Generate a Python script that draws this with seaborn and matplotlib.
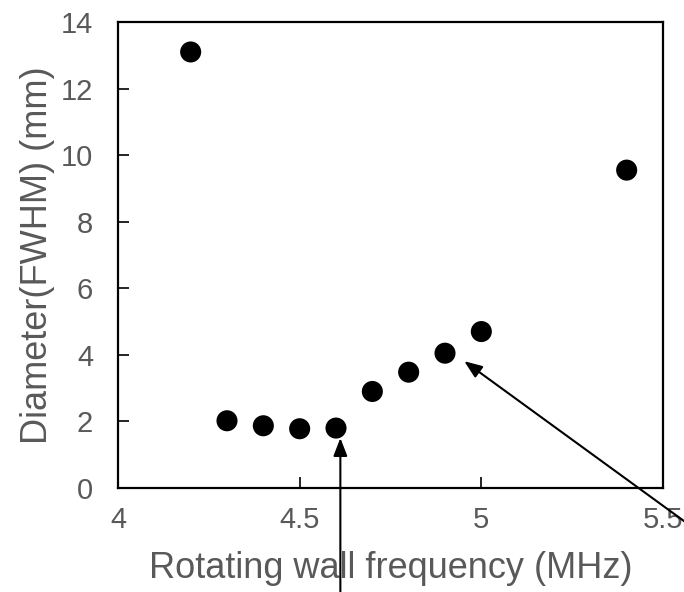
import matplotlib
matplotlib.use("Agg")
import matplotlib.pyplot as plt
import seaborn as sns
import pandas as pd

# Data
frequency_mhz = [4.2, 4.3, 4.4, 4.5, 4.6, 4.7, 4.8, 4.9, 5.0, 5.4]
diameter_mm = [13.1, 2.02, 1.87, 1.78, 1.80, 2.90, 3.48, 4.05, 4.70, 9.55]
x_ticks = [4, 4.5, 5, 5.5]
x_tick_labels = ["4", "4.5", "5", "5.5"]
y_ticks = [0, 2, 4, 6, 8, 10, 12, 14]
# arrows: (tip_x, tip_y, tail_x, tail_y) in data units
arrow_tips = [(4.612, 1.50), (4.953, 3.81)]
arrow_tails = [(4.612, -3.15), (5.565, -1.05)]

sns.set_theme(style="white")
plt.rcParams["font.family"] = ["Liberation Sans", "DejaVu Sans"]

df = pd.DataFrame({"freq": frequency_mhz, "diam": diameter_mm})

fig = plt.figure(figsize=(6.84, 5.92), dpi=100)
ax = fig.add_axes([118 / 684, 104 / 592, 545 / 684, 466 / 592])

sns.scatterplot(data=df, x="freq", y="diam", ax=ax, color="black",
                s=230, edgecolor="none", legend=False, zorder=3)

ax.set_xlim(4, 5.5)
ax.set_ylim(0, 14)
ax.set_xticks(x_ticks)
ax.set_xticklabels(x_tick_labels)
ax.set_yticks(y_ticks)

gray = "#595959"
ax.tick_params(axis="both", direction="in", length=8, width=1.2, color="black",
               labelsize=21, labelcolor=gray, bottom=True, left=True)
ax.tick_params(axis="x", pad=13)
ax.tick_params(axis="y", pad=18)

for sp in ax.spines.values():
    sp.set_color("black")
    sp.set_linewidth(1.6)

ax.set_xlabel("Rotating wall frequency (MHz)", fontsize=26, color=gray, labelpad=12)
ax.set_ylabel("Diameter(FWHM) (mm)", fontsize=26, color=gray, labelpad=4)

for (tx, ty), (sx, sy) in zip(arrow_tips, arrow_tails):
    ax.annotate("", xy=(tx, ty), xytext=(sx, sy), xycoords="data", textcoords="data",
                annotation_clip=False,
                arrowprops=dict(arrowstyle="-|>,head_length=0.9,head_width=0.35",
                                color="black", lw=1.5, shrinkA=0, shrinkB=0))

fig.savefig("out.png", dpi=100)
